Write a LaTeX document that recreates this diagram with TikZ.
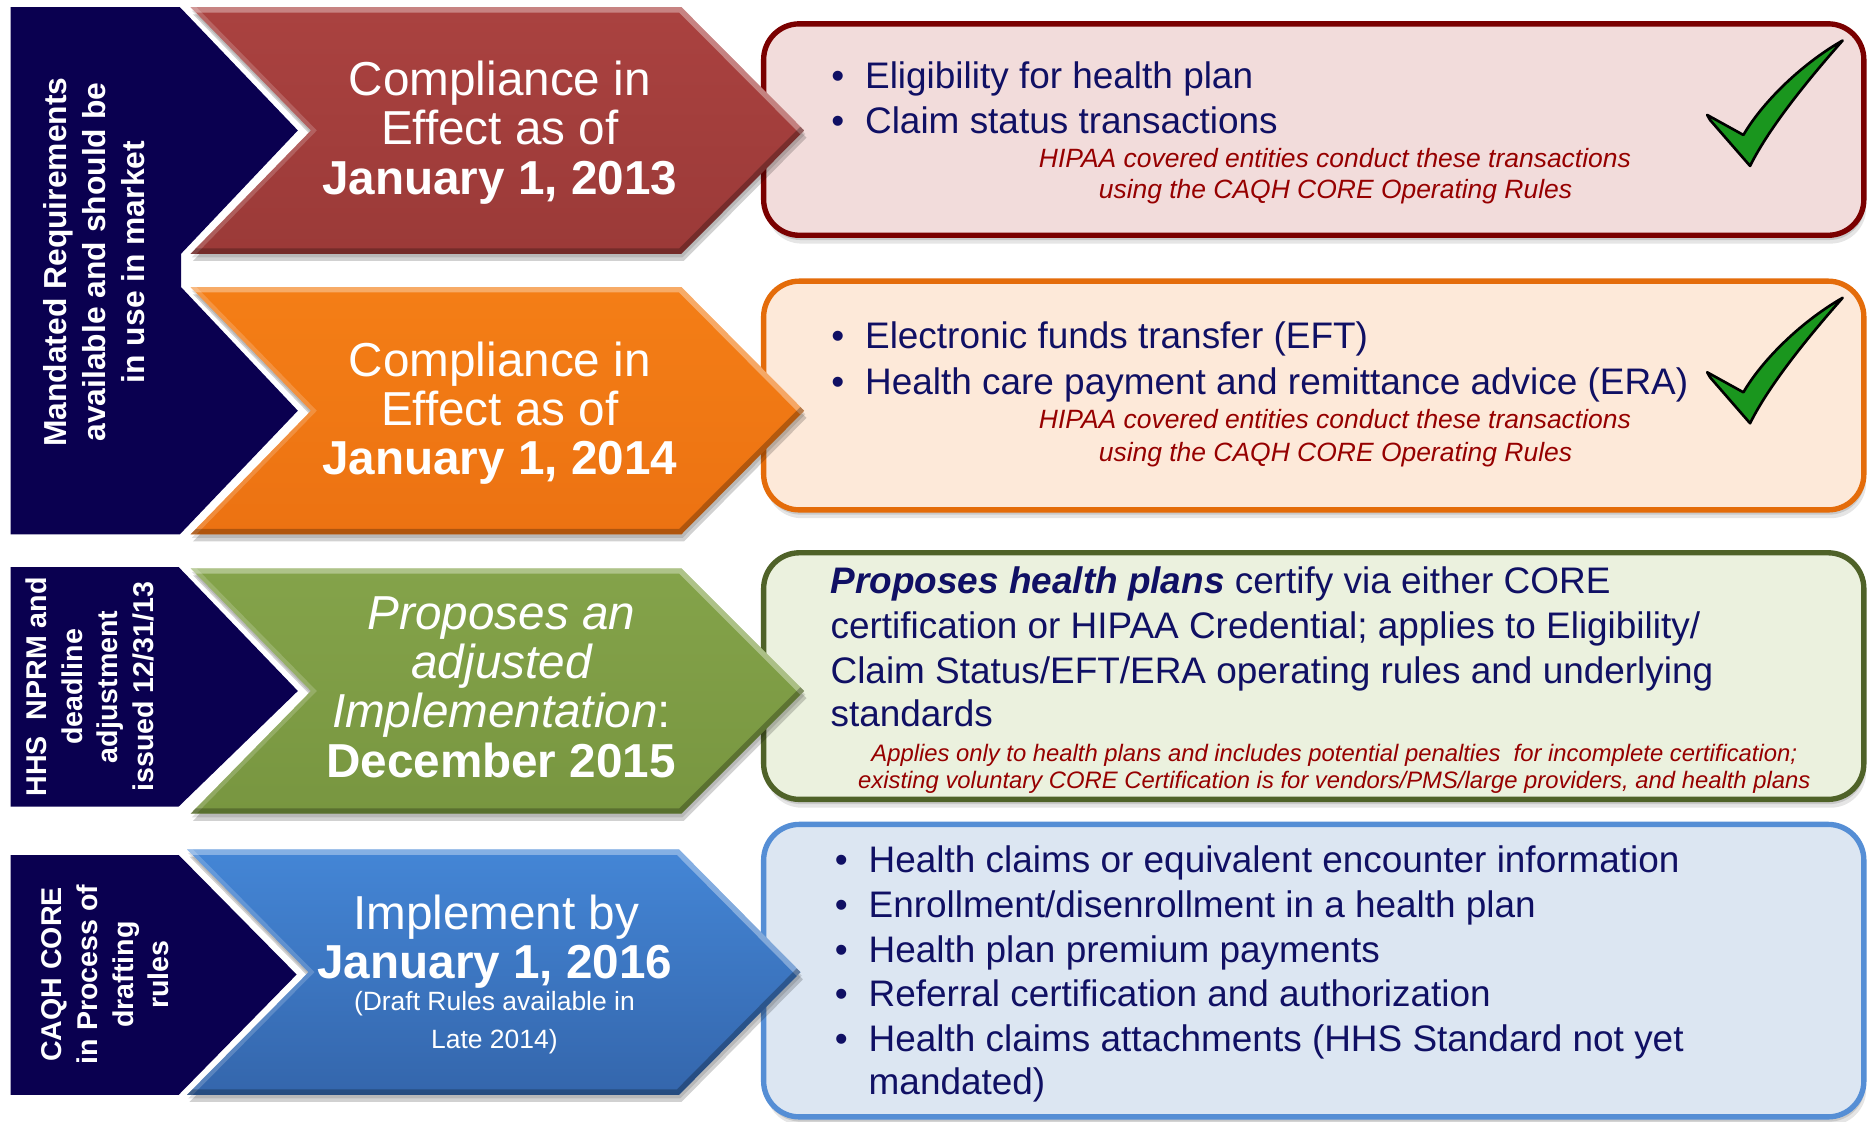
\documentclass[tikz,border=0pt]{standalone}
\usepackage{fontspec}
\setmainfont{Liberation Sans}
\usetikzlibrary{calc}
\definecolor{navy}{RGB}{10,0,80}
\definecolor{txtblue}{RGB}{16,16,100}
\definecolor{itred}{RGB}{150,0,0}
\definecolor{b1}{RGB}{122,0,0}
\definecolor{f1}{RGB}{242,220,219}
\definecolor{b2}{RGB}{228,108,10}
\definecolor{f2}{RGB}{253,233,217}
\definecolor{b3}{RGB}{79,98,40}
\definecolor{f3}{RGB}{235,241,222}
\definecolor{b4}{RGB}{85,142,213}
\definecolor{f4}{RGB}{220,230,242}
\definecolor{redT}{RGB}{170,66,64}
\definecolor{redB}{RGB}{155,58,56}
\definecolor{orT}{RGB}{244,126,22}
\definecolor{orB}{RGB}{236,114,18}
\definecolor{grT}{RGB}{132,163,74}
\definecolor{grB}{RGB}{120,150,64}
\definecolor{blT}{RGB}{68,134,214}
\definecolor{blB}{RGB}{52,102,172}
\definecolor{ckgreen}{RGB}{26,150,30}
\newcommand\fchev{\fontsize{40}{40}\selectfont}
\newcommand\fsmall{\fontsize{22.2}{31}\selectfont}
\newcommand\fboxtxt{\fontsize{31}{38}\selectfont}
\newcommand\fital{\fontsize{22.2}{27}\selectfont\itshape}
\newcommand\fitsm{\fontsize{20}{23}\selectfont\itshape}
% chevron path: L N S P T B
\newcommand\chevpath[6]{(#1,#5) -- (#3,#5) -- (#4,{(#5+#6)/2}) -- (#3,#6) -- (#1,#6) -- (#2,{(#5+#6)/2}) -- cycle}
\newcommand\drawchev[8]{%
  \fill[black,opacity=0.12] \chevpath{#1+1}{#2+1}{#3+1}{#4+1}{#5+3}{#6+3};
  \fill[black,opacity=0.18] \chevpath{#1+2}{#2+2}{#3+2}{#4+2}{#5+6}{#6+6};
  \shade[top color=#7,bottom color=#8] \chevpath{#1}{#2}{#3}{#4}{#5}{#6};
  \begin{scope}
    \clip \chevpath{#1}{#2}{#3}{#4}{#5}{#6};
    \draw[white,opacity=0.35,line width=9pt,line join=miter] (#1,#5) -- (#3,#5) -- (#4,{(#5+#6)/2});
    \draw[white,opacity=0.18,line width=7pt] (#1,#5) -- (#2,{(#5+#6)/2}) -- (#1,#6);
    \draw[black,opacity=0.25,line width=9pt,line join=miter] (#4,{(#5+#6)/2}) -- (#3,#6) -- (#1,#6);
  \end{scope}}
\newcommand\boxshape[6]{%
  \fill[black,opacity=0.10,rounded corners=30pt] (#1+2,#2+3) rectangle (#3+2,#4+7);
  \fill[black,opacity=0.12,rounded corners=30pt] (#1+1,#2+2) rectangle (#3+1,#4+4);
  \draw[line width=4.5pt,draw=#5,fill=#6,rounded corners=30pt] (#1,#2) rectangle (#3,#4);}
\newcommand\checkmk[1]{%
  \filldraw[fill=ckgreen,draw=black,line width=2.2pt,line join=round,shift={(0,#1)}]
    (1433,96.5) -- (1463.4,113.3) .. controls (1478,88) and (1510,55) .. (1546.7,34)
    .. controls (1522,62) and (1486,105) .. (1469,139.3) -- (1435.4,100.7) -- cycle;}
\tikzset{
  chv/.style={text=white,inner sep=0pt,anchor=base,font=\fchev},
  chvb/.style={chv,font=\fchev\bfseries},
  chvi/.style={chv,font=\fchev\itshape},
  chvs/.style={chv,font=\fsmall},
  bx/.style={text=txtblue,inner sep=0pt,anchor=base west,font=\fboxtxt},
  itx/.style={text=itred,inner sep=0pt,anchor=base,font=\fital},
  itsm/.style={text=itred,inner sep=0pt,anchor=base,font=\fitsm},
  navytxt/.style={text=white,inner sep=0pt,align=center,rotate=90}
}
\newcommand\bulmark{\llap{•\hspace{17.5pt}}}
\begin{document}
\begin{tikzpicture}[x=1pt,y=-1pt]
\useasboundingbox (0,0) rectangle (1568,941);
% navy bands
\fill[navy] (9,6) -- (151,6) -- (250,109.5) -- (152,213) -- (152,241) -- (250,344.75) -- (151,448.5) -- (9,448.5) -- cycle;
\fill[navy] (9,476) -- (150,476) -- (250,580) -- (150,677) -- (9,677) -- cycle;
\fill[navy] (9,717.7) -- (150,717.7) -- (249,818) -- (150,919) -- (9,919) -- cycle;
% boxes
\boxshape{641}{20}{1564.5}{197.5}{b1}{f1}
\boxshape{641}{236}{1564.5}{428}{b2}{f2}
\boxshape{641}{464}{1564.5}{671}{b3}{f3}
\boxshape{641}{692}{1564.5}{937.5}{b4}{f4}
% chevrons
\drawchev{160}{261}{572}{675}{6}{213}{redT}{redB}
\drawchev{160}{261}{572}{675}{241}{448.5}{orT}{orB}
\drawchev{160}{261}{572}{675}{477}{683}{grT}{grB}
\drawchev{157}{259}{570}{672}{713}{919}{blT}{blB}
% navy texts
\node[navytxt,font=\fontsize{26.7}{32.5}\selectfont\bfseries] (n1) at (79,220) {Mandated Requirements\\available and should be\\in use in market};
\node[navytxt,font=\fontsize{24}{30}\selectfont\bfseries] (n3) at (75.5,576.5) {HHS\ \ NPRM and\\deadline\\adjustment\\issued 12/31/13};
\node[navytxt,font=\fontsize{24}{30}\selectfont\bfseries] (n4) at (88.5,818) {CAQH CORE\\in Process of\\drafting\\rules};
% chevron texts
\node[chv] (c1a) at (419.5,80.5) {Compliance in};
\node[chv] (c1b) at (419.5,121.5) {Effect as of};
\node[chvb] (c1c) at (419.5,163) {January 1, 2013};
\node[chv] (c2a) at (419.5,316) {Compliance in};
\node[chv] (c2b) at (419.5,357) {Effect as of};
\node[chvb] (c2c) at (419.5,398) {January 1, 2014};
\node[chvi] (c3a) at (421,528.5) {Proposes an};
\node[chvi] (c3b) at (421,569.5) {adjusted};
\node[chv] (c3c) at (421,611) {\textit{Implementation}:};
\node[chvb] (c3d) at (420.5,653) {December 2015};
\node[chv] (c4a) at (416.5,780) {Implement by};
\node[chvb] (c4b) at (415.5,821) {January 1, 2016};
\node[chvs] (c4c) at (415,848.5) {(Draft Rules available in};
\node[chvs] (c4d) at (415,880) {Late 2014)};
% box 1
\node[bx] (t1a) at (726,74) {\bulmark Eligibility for health plan};
\node[bx] (t1b) at (726,112) {\bulmark Claim status transactions};
\node[itx] (t1c) at (1120.5,140.5) {HIPAA covered entities conduct these transactions};
\node[itx] (t1d) at (1121,166.5) {using the CAQH CORE Operating Rules};
% box 2
\node[bx] (t2a) at (726,292.5) {\bulmark Electronic funds transfer (EFT)};
\node[bx] (t2b) at (726,331) {\bulmark Health care payment and remittance advice (ERA)};
\node[itx] (t2c) at (1120.5,360) {HIPAA covered entities conduct these transactions};
\node[itx] (t2d) at (1121,387) {using the CAQH CORE Operating Rules};
% box 3
\node[bx] (t3a) at (697,498.5) {\textbf{\textit{Proposes health plans}} certify via either CORE};
\node[bx] (t3b) at (697,536) {certification or HIPAA Credential; applies to Eligibility/};
\node[bx] (t3c) at (697,573.5) {Claim Status/EFT/ERA operating rules and underlying};
\node[bx] (t3d) at (697,609.5) {standards};
\node[itsm] (t3e) at (1120,639.5) {Applies only to health plans and includes potential penalties\ \ for incomplete certification;};
\node[itsm] (t3f) at (1120,662) {existing voluntary CORE Certification is for vendors/PMS/large providers, and health plans};
% box 4
\node[bx] (t4a) at (729,732.5) {\bulmark Health claims or equivalent encounter information};
\node[bx] (t4b) at (729,770) {\bulmark Enrollment/disenrollment in a health plan};
\node[bx] (t4c) at (729,807.5) {\bulmark Health plan premium payments};
\node[bx] (t4d) at (729,845) {\bulmark Referral certification and authorization};
\node[bx] (t4e) at (729,882.5) {\bulmark Health claims attachments (HHS Standard not yet};
\node[bx] (t4f) at (729,918.5) {mandated)};
% checkmarks
\checkmk{0}
\checkmk{216}
\end{tikzpicture}
\end{document}
